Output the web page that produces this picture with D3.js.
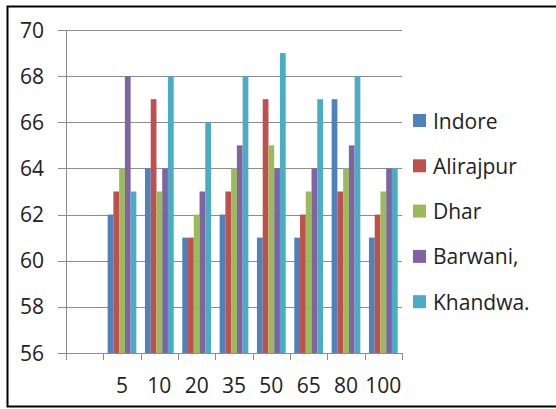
<!DOCTYPE html>
<html>
<head>
<meta charset="utf-8">
<script src="https://cdn.jsdelivr.net/npm/d3@7"></script>
<style>
  html, body { margin: 0; padding: 0; background: #fff; }
  svg { display: block; font-family: "Open Sans", Lato, sans-serif; }
</style>
</head>
<body>
<svg id="chart" width="556" height="409"></svg>
<script>
// Categories along the x axis (the first slot is left empty)
const categories = ["", "5", "10", "20", "35", "50", "65", "80", "100"];
const seriesNames = ["Indore", "Alirajpur", "Dhar", "Barwani,", "Khandwa."];
const colors = ["#4F81BD", "#C0504D", "#9BBB59", "#8064A2", "#4BACC6"];

// Values per series, one entry per category
const indore    = [null, 62, 64, 61, 62, 61, 61, 67, 61];
const alirajpur = [null, 63, 67, 61, 63, 67, 62, 63, 62];
const dhar      = [null, 64, 63, 62, 64, 65, 63, 64, 63];
const barwani   = [null, 68, 64, 63, 65, 64, 64, 65, 64];
const khandwa   = [null, 63, 68, 66, 68, 69, 67, 68, 64];
const yTicks = [56, 58, 60, 62, 64, 66, 68, 70];

const seriesValues = [indore, alirajpur, dhar, barwani, khandwa];

const svg = d3.select("#chart");

// Outer frame (open on the right side)
svg.append("rect")
  .attr("x", 7.5).attr("y", 6.5)
  .attr("width", 560).attr("height", 400)
  .attr("fill", "none").attr("stroke", "#000").attr("stroke-width", 2);

const plot = { left: 66, right: 402, top: 30, bottom: 353 };

const x = d3.scaleBand()
  .domain(categories.map((c, i) => i))
  .range([plot.left, plot.right])
  .paddingInner(0).paddingOuter(0);

const y = d3.scaleLinear().domain([56, 70]).range([plot.bottom, plot.top]);

// Horizontal gridlines with tick stubs on the left
svg.append("g")
  .selectAll("line")
  .data(yTicks)
  .join("line")
  .attr("x1", plot.left - 8).attr("x2", plot.right)
  .attr("y1", d => Math.round(y(d)) + 0.5).attr("y2", d => Math.round(y(d)) + 0.5)
  .attr("stroke", "#8c8c8c").attr("stroke-width", 1);

// Bars: grouped within each band, gap width 150% of a bar
const barW = x.bandwidth() / 6.5;
const groupOffset = (x.bandwidth() - barW * seriesNames.length) / 2;

seriesValues.forEach((vals, s) => {
  svg.append("g")
    .selectAll("rect")
    .data(vals.map((v, i) => ({ v, i })).filter(d => d.v != null))
    .join("rect")
    .attr("x", d => x(d.i) + groupOffset + s * barW)
    .attr("y", d => y(d.v))
    .attr("width", barW)
    .attr("height", d => y(56) - y(d.v))
    .attr("fill", colors[s]);
});

// Y axis line
svg.append("line")
  .attr("x1", plot.left + 0.5).attr("x2", plot.left + 0.5)
  .attr("y1", plot.top).attr("y2", plot.bottom + 6)
  .attr("stroke", "#8c8c8c");

// X axis tick marks at band edges
svg.append("g")
  .selectAll("line")
  .data(d3.range(categories.length + 1))
  .join("line")
  .attr("x1", i => Math.round(plot.left + i * x.step()) + 0.5)
  .attr("x2", i => Math.round(plot.left + i * x.step()) + 0.5)
  .attr("y1", plot.bottom).attr("y2", plot.bottom + 7)
  .attr("stroke", "#8c8c8c");

// Y tick labels
svg.append("g")
  .selectAll("text")
  .data(yTicks)
  .join("text")
  .attr("x", 44).attr("y", d => y(d) + 7.5)
  .attr("text-anchor", "end")
  .attr("font-size", 21)
  .attr("fill", "#222")
  .text(d => d);

// X tick labels
svg.append("g")
  .selectAll("text")
  .data(categories.map((c, i) => ({ c, i })))
  .join("text")
  .attr("x", d => x(d.i) + x.bandwidth() / 2)
  .attr("y", 393)
  .attr("text-anchor", "middle")
  .attr("font-size", 21)
  .attr("fill", "#222")
  .text(d => d.c);

// Legend
const legend = svg.append("g")
  .selectAll("g")
  .data(seriesNames)
  .join("g")
  .attr("transform", (d, i) => `translate(413, ${121 + i * 45.3})`);

legend.append("rect")
  .attr("x", 0).attr("y", -7)
  .attr("width", 13).attr("height", 13)
  .attr("fill", (d, i) => colors[i]);

legend.append("text")
  .attr("x", 20).attr("y", 7.5)
  .attr("font-size", 21)
  .attr("fill", "#222")
  .text(d => d);
</script>
</body>
</html>
